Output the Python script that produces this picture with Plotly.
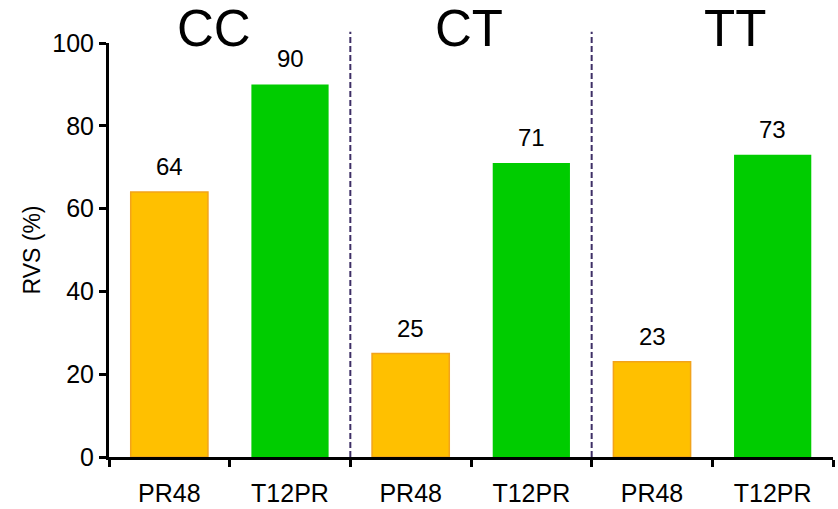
import plotly.graph_objects as go

# RVS rates by genotype and treatment regimen
genotypes = ["CC", "CT", "TT"]
regimens = ["PR48", "T12PR"]
categories = ["PR48", "T12PR", "PR48", "T12PR", "PR48", "T12PR"]
rvs_values = [64, 90, 25, 71, 23, 73]
y_ticks = [0, 20, 40, 60, 80, 100]

ORANGE = "#FFC000"
ORANGE_EDGE = "#F2A31B"
GREEN = "#00CC00"
FONT = "Liberation Sans, Arial, sans-serif"

positions = list(range(len(categories)))
fill_colors = [ORANGE if c == "PR48" else GREEN for c in categories]
edge_colors = [ORANGE_EDGE if c == "PR48" else GREEN for c in categories]
edge_widths = [1.5 if c == "PR48" else 0 for c in categories]

fig = go.Figure()
fig.add_trace(go.Bar(
    x=positions,
    y=rvs_values,
    width=0.64,
    marker=dict(color=fill_colors, line=dict(color=edge_colors, width=edge_widths)),
    hoverinfo="skip",
))

# value labels above each bar
for xp, v in zip(positions, rvs_values):
    fig.add_annotation(
        x=xp, y=v, xref="x", yref="y", text=str(v), showarrow=False,
        yanchor="bottom", yshift=10, font=dict(family=FONT, size=24, color="black"),
    )

# genotype headings
heading_x = [0.37, 2.48, 4.69]
for g, hx in zip(genotypes, heading_x):
    fig.add_annotation(
        x=hx, y=1.0, xref="x", yref="paper", text=g, showarrow=False,
        yanchor="bottom", yshift=-16, font=dict(family=FONT, size=51, color="black"),
    )

# dashed dividers between genotype groups
for dx in [1.5, 3.5]:
    fig.add_shape(
        type="line", xref="x", yref="paper", x0=dx, x1=dx, y0=0, y1=1.027,
        line=dict(color="#3E2F66", width=2, dash="6px,3px"), layer="above",
    )

fig.update_layout(
    width=838, height=509,
    margin=dict(l=109, r=5, t=43, b=52),
    plot_bgcolor="white", paper_bgcolor="white",
    showlegend=False,
    font=dict(family=FONT, size=24, color="black"),
    xaxis=dict(
        range=[-0.5, 5.5], automargin=False,
        tickmode="array", tickvals=positions, ticktext=categories,
        ticks="", showgrid=False, zeroline=False,
        showline=True, linecolor="black", linewidth=3,
        ticklabelstandoff=12,
        tickfont=dict(family=FONT, size=25, color="black"),
        minor=dict(
            tickmode="array", tickvals=[-0.5, 0.5, 1.5, 2.5, 3.5, 4.5, 5.5],
            ticks="outside", ticklen=7, tickwidth=3, tickcolor="black", showgrid=False,
        ),
    ),
    yaxis=dict(
        range=[0, 100], automargin=False,
        tickmode="array", tickvals=y_ticks,
        ticks="outside", ticklen=7, tickwidth=3, tickcolor="black",
        showgrid=False, zeroline=False,
        showline=True, linecolor="black", linewidth=3,
        tickfont=dict(family=FONT, size=25, color="black"),
        title=dict(text="RVS (%)", font=dict(family=FONT, size=23, color="black"), standoff=6),
    ),
)

fig.write_html("out.html")
